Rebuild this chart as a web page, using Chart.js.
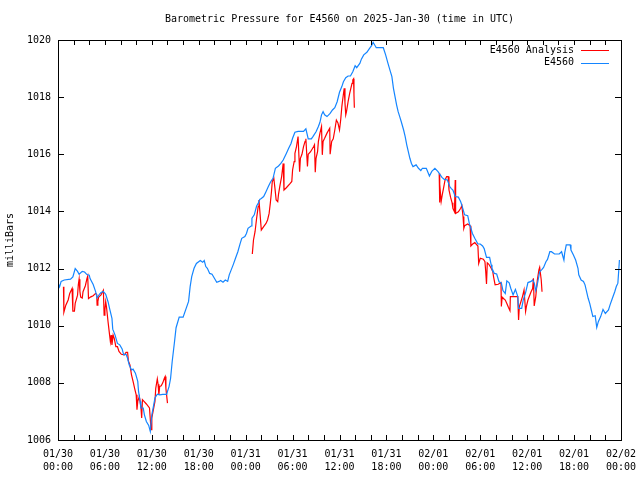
<!DOCTYPE html>
<html>
<head>
<meta charset="utf-8">
<script src="https://cdn.jsdelivr.net/npm/chart.js@4/dist/chart.umd.min.js"></script>
<style>
  html, body { margin: 0; padding: 0; background: #fff; }
  canvas { display: block; }
</style>
</head>
<body>
<canvas id="pressureChart" width="640" height="480"></canvas>
<script>
const chartTitle = 'Barometric Pressure for E4560 on 2025-Jan-30 (time in UTC)';
const yTitle = 'milliBars';

// x labels, one per 6 hours from 01/30 00:00
const timeLabels = [
  ['01/30', '00:00'], ['01/30', '06:00'], ['01/30', '12:00'], ['01/30', '18:00'],
  ['01/31', '00:00'], ['01/31', '06:00'], ['01/31', '12:00'], ['01/31', '18:00'],
  ['02/01', '00:00'], ['02/01', '06:00'], ['02/01', '12:00'], ['02/01', '18:00'],
  ['02/02', '00:00']
];
const pressureTicks = [1006, 1008, 1010, 1012, 1014, 1016, 1018, 1020];

// E4560 observed (hours since 01/30 00:00 UTC)
const obsHours = [
  0.0, 0.2, 0.4, 0.8, 1.6, 1.9, 2.2, 2.5, 2.7, 3.1, 3.4, 3.7, 4.0, 4.1, 4.5, 4.8, 5.0, 5.3, 5.5, 5.8,
  6.1, 6.4, 6.6, 6.9, 7.0, 7.3, 7.6, 7.9, 8.2, 8.4, 8.7, 8.9, 9.1, 9.4, 9.6, 9.9, 10.2, 10.3, 10.5, 10.6,
  10.9, 11.05, 11.3, 11.6, 11.8, 12.0, 12.2, 12.4, 12.7, 13.0, 13.4, 13.9, 14.0, 14.2, 14.4, 14.6, 14.9, 15.1, 15.5, 16.0,
  16.7, 16.9, 17.1, 17.4, 17.7, 18.2, 18.5, 18.7, 18.9, 19.1, 19.4, 19.7, 20.0, 20.3, 20.6, 20.8, 21.1, 21.4, 21.7, 21.9,
  22.1, 22.4, 22.7, 23.0, 23.3, 23.5, 23.9, 24.1, 24.3, 24.7, 24.8, 25.1, 25.4, 25.6, 25.8, 26.0, 26.3, 26.6, 26.9, 27.2,
  27.5, 27.8, 28.2, 28.5, 28.8, 29.2, 29.5, 29.8, 30.0, 30.3, 30.7, 31.4, 31.7, 32.0, 32.4, 32.6, 33.0, 33.3, 33.5, 33.7,
  33.9, 34.1, 34.4, 34.8, 35.1, 35.4, 35.7, 36.0, 36.3, 36.5, 36.8, 37.1, 37.4, 37.7, 38.0, 38.2, 38.6, 38.8, 39.1, 39.5,
  39.8, 40.1, 40.3, 40.7, 41.6, 41.9, 42.2, 42.5, 42.7, 42.9, 43.1, 43.3, 43.5, 43.7, 43.9, 44.2, 44.4, 44.6, 44.8, 45.0,
  45.2, 45.4, 45.8, 46.1, 46.4, 46.6, 47.1, 47.5, 47.8, 48.2, 48.6, 49.1, 49.4, 49.8, 50.1, 50.3, 50.5, 50.8, 51.2, 51.5,
  51.7, 52.0, 52.4, 52.6, 52.8, 53.0, 53.3, 53.7, 54.0, 54.3, 54.5, 54.8, 55.2, 55.4, 55.5, 55.8, 56.1, 56.4, 56.7, 56.9,
  57.2, 57.4, 57.7, 57.9, 58.2, 58.5, 58.8, 58.9, 59.3, 59.5, 59.8, 60.1, 60.5, 60.7, 60.9, 61.1, 61.3, 61.6, 61.9, 62.1,
  62.4, 62.6, 62.9, 63.1, 63.5, 64.1, 64.4, 64.7, 64.8, 65.0, 65.5, 65.6, 65.9, 66.2, 66.5, 66.6, 66.9, 67.2, 67.4, 67.6,
  67.8, 68.0, 68.2, 68.4, 68.7, 68.9, 69.1, 69.4, 69.7, 70.0, 70.4, 70.6, 70.9, 71.2, 71.4, 71.6, 71.7, 71.8
];
const obsPressure = [
  1011.5, 1011.36, 1011.55, 1011.6, 1011.63, 1011.71, 1012.0, 1011.9, 1011.8, 1011.9, 1011.88, 1011.79, 1011.77, 1011.65, 1011.44, 1011.2, 1010.98, 1011.1, 1011.16, 1011.2,
  1011.1, 1010.84, 1010.6, 1010.26, 1009.88, 1009.67, 1009.38, 1009.33, 1009.19, 1008.98, 1009.0, 1008.86, 1008.63, 1008.45, 1008.48, 1008.34, 1008.05, 1007.7, 1007.35, 1007.12,
  1007.12, 1006.88, 1006.65, 1006.51, 1006.3, 1006.88, 1007.17, 1007.47, 1007.6, 1007.58, 1007.6, 1007.6, 1007.7, 1007.87, 1008.16, 1008.74, 1009.44, 1009.93, 1010.3, 1010.3,
  1010.85, 1011.37, 1011.72, 1012.01, 1012.18, 1012.28, 1012.22, 1012.28, 1012.07, 1012.01, 1011.83, 1011.8, 1011.66, 1011.52, 1011.55, 1011.58, 1011.52, 1011.6, 1011.55, 1011.78,
  1011.92, 1012.13, 1012.36, 1012.59, 1012.88, 1013.06, 1013.12, 1013.23, 1013.41, 1013.49, 1013.76, 1013.88, 1014.19, 1014.28, 1014.42, 1014.45, 1014.52, 1014.69, 1014.87, 1015.04,
  1015.16, 1015.51, 1015.59, 1015.68, 1015.8, 1016.03, 1016.21, 1016.38, 1016.56, 1016.77, 1016.8, 1016.8, 1016.89, 1016.54, 1016.54, 1016.62, 1016.79, 1016.97, 1017.12, 1017.38,
  1017.49, 1017.38, 1017.32, 1017.43, 1017.55, 1017.63, 1017.84, 1018.17, 1018.37, 1018.54, 1018.68, 1018.74, 1018.74, 1018.89, 1019.1, 1019.03, 1019.18, 1019.33, 1019.48, 1019.57,
  1019.69, 1019.8, 1019.92, 1019.73, 1019.73, 1019.48, 1019.18, 1018.9, 1018.72, 1018.31, 1018.02, 1017.73, 1017.49, 1017.32, 1017.14, 1016.85, 1016.62, 1016.33, 1016.09, 1015.86,
  1015.68, 1015.57, 1015.63, 1015.51, 1015.43, 1015.51, 1015.51, 1015.24, 1015.4, 1015.51, 1015.39, 1015.19, 1015.12, 1015.1, 1014.87, 1014.8, 1014.75, 1014.52, 1014.5, 1014.34,
  1014.17, 1013.88, 1013.85, 1013.58, 1013.41, 1013.23, 1013.06, 1012.86, 1012.86, 1012.79, 1012.7, 1012.39, 1012.39, 1012.13, 1012.01, 1011.83, 1011.81, 1011.54, 1011.5, 1011.23,
  1011.13, 1011.57, 1011.5, 1011.31, 1011.08, 1011.27, 1011.02, 1010.61, 1010.61, 1010.9, 1011.16, 1011.51, 1011.55, 1011.6, 1011.5, 1011.23, 1011.45, 1011.89, 1011.97, 1012.04,
  1012.24, 1012.32, 1012.59, 1012.59, 1012.51, 1012.51, 1012.59, 1012.3, 1012.55, 1012.83, 1012.83, 1012.65, 1012.48, 1012.3, 1012.01, 1011.78, 1011.6, 1011.55, 1011.43, 1011.19,
  1010.96, 1010.78, 1010.55, 1010.32, 1010.35, 1009.94, 1010.14, 1010.32, 1010.57, 1010.43, 1010.55, 1010.73, 1010.96, 1011.19, 1011.37, 1011.49, 1011.89, 1012.3
];

// E4560 Analysis, three runs with gaps (null) between them
const anaHours = [
  0.7, 0.75, 1.0, 1.3, 1.5, 1.8, 1.9, 2.1, 2.2, 2.5, 2.6, 2.7, 2.8, 2.9, 3.1, 3.2, 3.5, 3.7, 3.8, 3.9,
  4.2, 4.5, 4.8, 4.95, 5.0, 5.1, 5.2, 5.5, 5.7, 5.8, 5.9, 6.0, 6.1, 6.2, 6.4, 6.6, 6.7, 6.8, 6.9, 7.05,
  7.2, 7.4, 7.6, 7.8, 8.1, 8.5, 8.7, 8.9, 9.0, 9.2, 9.4, 9.6, 9.8, 10.0, 10.1, 10.2, 10.4, 10.6, 10.7, 10.8,
  11.0, 11.3, 11.7, 11.9, 12.0, 12.2, 12.4, 12.5, 12.7, 12.8, 12.9, 13.0, 13.2, 13.4, 13.6, 13.7, 13.8, 14.0,
  19.0,
  24.85, 25.0, 25.2, 25.4, 25.6, 25.7, 25.85, 26.0, 26.3, 26.6, 26.8, 27.0, 27.15, 27.3, 27.4, 27.6, 27.75, 27.9, 28.1, 28.2,
  28.4, 28.6, 28.8, 28.9, 29.2, 29.7, 29.9, 30.0, 30.2, 30.3, 30.5, 30.7, 30.9, 31.0, 31.2, 31.4, 31.6, 31.7, 31.9, 32.0,
  32.3, 32.7, 32.8, 32.9, 33.0, 33.2, 33.3, 33.5, 33.7, 33.8, 33.9, 34.1, 34.4, 34.75, 34.8, 35.0, 35.2, 35.4, 35.6, 35.8,
  36.0, 36.15, 36.3, 36.4, 36.6, 36.7, 36.8, 36.9, 37.1, 37.3, 37.6, 37.7, 37.8, 37.85, 37.9,
  43.0,
  48.75, 48.78, 48.85, 49.0, 49.15, 49.3, 49.5, 49.7, 49.9, 50.0, 50.2, 50.4, 50.5, 50.7, 50.8, 50.85, 51.2, 51.5, 51.65, 51.8,
  51.9, 52.0, 52.4, 52.7, 52.8, 53.0, 53.3, 53.7, 53.8, 54.0, 54.4, 54.6, 54.7, 54.8, 54.9, 55.1, 55.4, 55.6, 55.7, 55.9,
  56.3, 56.65, 56.7, 56.8, 56.9, 57.2, 57.4, 57.6, 57.8, 57.85, 58.8, 58.9, 59.0, 59.2, 59.4, 59.6, 59.8, 59.9, 60.1, 60.5,
  60.7, 60.8, 60.9, 61.1, 61.2, 61.3, 61.5, 61.6, 61.8, 61.9
];
const anaPressure = [
  1011.36, 1010.47, 1010.72, 1010.9, 1011.13, 1011.3, 1010.51, 1010.51, 1010.78, 1011.07, 1011.44, 1011.63, 1011.2, 1011.0, 1010.97, 1011.19, 1011.4, 1011.65, 1011.74, 1010.95,
  1011.01, 1011.05, 1011.13, 1011.1, 1010.72, 1010.85, 1011.0, 1011.08, 1011.19, 1011.24, 1010.37, 1010.55, 1010.84, 1010.66, 1010.14, 1009.67, 1009.44, 1009.67, 1009.33, 1009.67,
  1009.55, 1009.27, 1009.27, 1009.1, 1009.0, 1008.98, 1009.07, 1009.07, 1008.77, 1008.63, 1008.28, 1008.05, 1007.81, 1007.58, 1007.06, 1007.35, 1007.52, 1007.17, 1006.77, 1007.41,
  1007.35, 1007.26, 1007.12, 1006.36, 1006.77, 1007.06, 1007.35, 1007.81, 1008.14, 1007.95, 1007.58, 1007.87, 1007.9, 1008.0, 1008.16, 1008.22, 1007.8, 1007.29,
  null,
  1012.51, 1013.0, 1013.29, 1013.76, 1014.17, 1014.4, 1013.88, 1013.35, 1013.47, 1013.58, 1013.7, 1013.93, 1014.28, 1014.69, 1015.04, 1015.16, 1014.8, 1014.4, 1014.34, 1014.6,
  1014.93, 1015.22, 1015.68, 1014.75, 1014.83, 1014.98, 1015.05, 1015.45, 1015.74, 1016.03, 1016.27, 1016.62, 1015.39, 1015.86, 1016.0, 1016.27, 1016.45, 1016.54, 1015.57, 1016.0,
  1016.09, 1016.27, 1016.33, 1015.37, 1015.86, 1016.1, 1016.45, 1016.74, 1016.97, 1015.98, 1016.45, 1016.56, 1016.74, 1016.91, 1016.0, 1016.45, 1016.54, 1016.85, 1017.2, 1017.1,
  1016.85, 1017.2, 1017.67, 1017.9, 1018.31, 1017.8, 1017.38, 1017.5, 1017.84, 1018.13, 1018.48, 1018.6, 1018.64, 1018.08, 1017.63,
  null,
  1015.33, 1014.31, 1014.95, 1014.35, 1014.6, 1014.81, 1015.1, 1015.22, 1015.22, 1014.75, 1014.5, 1014.3, 1014.11, 1013.99, 1015.1, 1013.93, 1013.99, 1014.11, 1014.2, 1013.82,
  1013.41, 1013.5, 1013.56, 1013.5, 1012.79, 1012.85, 1012.91, 1012.79, 1012.18, 1012.36, 1012.33, 1012.24, 1011.9, 1011.46, 1012.2, 1012.15, 1012.01, 1011.9, 1011.72, 1011.43,
  1011.45, 1011.51, 1010.67, 1011.0, 1010.97, 1010.9, 1010.78, 1010.65, 1010.53, 1011.02, 1011.02, 1010.2, 1010.67, 1010.84, 1011.02, 1011.25, 1010.5, 1010.67, 1010.9, 1011.19,
  1011.3, 1011.66, 1010.69, 1011.02, 1011.31, 1011.6, 1011.95, 1012.04, 1011.6, 1011.19
];

const toPoints = (xs, ys) => xs.map((h, i) => ({ x: h, y: ys[i] }));

const FONT = { family: 'DejaVu Sans Mono', size: 10, lineHeight: 1.3 };
Chart.defaults.font.family = FONT.family;
Chart.defaults.font.size = FONT.size;
Chart.defaults.color = '#000';

// gnuplot look: box frame, ticks pointing inward on all sides, title + key drawn inside
const gnuplotFrame = {
  id: 'gnuplotFrame',
  afterDraw(chart) {
    const { ctx, chartArea: a, scales: { x, y } } = chart;
    ctx.save();
    ctx.strokeStyle = '#000';
    ctx.lineWidth = 1;
    ctx.beginPath();
    x.ticks.forEach(t => {
      const px = Math.round(x.getPixelForValue(t.value)) + 0.5;
      ctx.moveTo(px, a.bottom); ctx.lineTo(px, a.bottom - 5);
      ctx.moveTo(px, a.top); ctx.lineTo(px, a.top + 5);
    });
    y.ticks.forEach(t => {
      const py = Math.round(y.getPixelForValue(t.value)) + 0.5;
      ctx.moveTo(a.left, py); ctx.lineTo(a.left + 6, py);
      ctx.moveTo(a.right, py); ctx.lineTo(a.right - 6, py);
    });
    ctx.stroke();
    ctx.strokeRect(Math.round(a.left) + 0.5, Math.round(a.top) + 0.5,
                   Math.round(a.width), Math.round(a.height));

    ctx.font = FONT.size + 'px "' + FONT.family + '"';
    ctx.fillStyle = '#000';
    ctx.textBaseline = 'middle';
    ctx.textAlign = 'center';
    ctx.fillText(chartTitle, (a.left + a.right) / 2, 19);

    // key, top right inside the plot
    ctx.textAlign = 'right';
    chart.data.datasets.forEach((ds, i) => {
      const ky = 50 + i * 12.5;
      ctx.fillText(ds.label, a.right - 47, ky);
      ctx.strokeStyle = ds.borderColor;
      ctx.beginPath();
      ctx.moveTo(a.right - 40, Math.round(ky) + 0.5);
      ctx.lineTo(a.right - 12, Math.round(ky) + 0.5);
      ctx.stroke();
    });
    ctx.restore();
  }
};

new Chart(document.getElementById('pressureChart'), {
  type: 'line',
  data: {
    datasets: [
      {
        label: 'E4560 Analysis',
        data: toPoints(anaHours, anaPressure),
        borderColor: '#ff0000',
        borderWidth: 1.2,
        pointRadius: 0,
        tension: 0,
        spanGaps: false,
        order: 2
      },
      {
        label: 'E4560',
        data: toPoints(obsHours, obsPressure),
        borderColor: '#1485ff',
        borderWidth: 1.2,
        pointRadius: 0,
        tension: 0,
        order: 1
      }
    ]
  },
  options: {
    responsive: false,
    animation: false,
    devicePixelRatio: 1,
    layout: { padding: { top: 40, right: 19, left: 0, bottom: 0 } },
    plugins: {
      legend: { display: false },
      title: { display: false },
      tooltip: { enabled: false }
    },
    scales: {
      x: {
        type: 'linear',
        min: 0,
        max: 72,
        grid: { display: false, drawTicks: false },
        border: { display: false },
        ticks: {
          stepSize: 2,
          autoSkip: false,
          maxRotation: 0,
          padding: 8,
          font: FONT,
          callback: v => (v % 6 === 0 ? timeLabels[v / 6] : '')
        },
        afterFit: s => { s.height = 40; s.paddingLeft = 0; s.paddingRight = 0; }
      },
      y: {
        min: pressureTicks[0],
        max: pressureTicks[pressureTicks.length - 1],
        grid: { display: false, drawTicks: false },
        border: { display: false },
        ticks: {
          stepSize: 2,
          padding: 7,
          font: FONT,
          callback: v => (pressureTicks.includes(v) ? String(v) : '')
        },
        title: { display: true, text: yTitle, font: FONT, padding: { top: 4, bottom: 0 } },
        afterFit: s => { s.width = 58; }
      }
    }
  },
  plugins: [gnuplotFrame]
});
</script>
</body>
</html>
